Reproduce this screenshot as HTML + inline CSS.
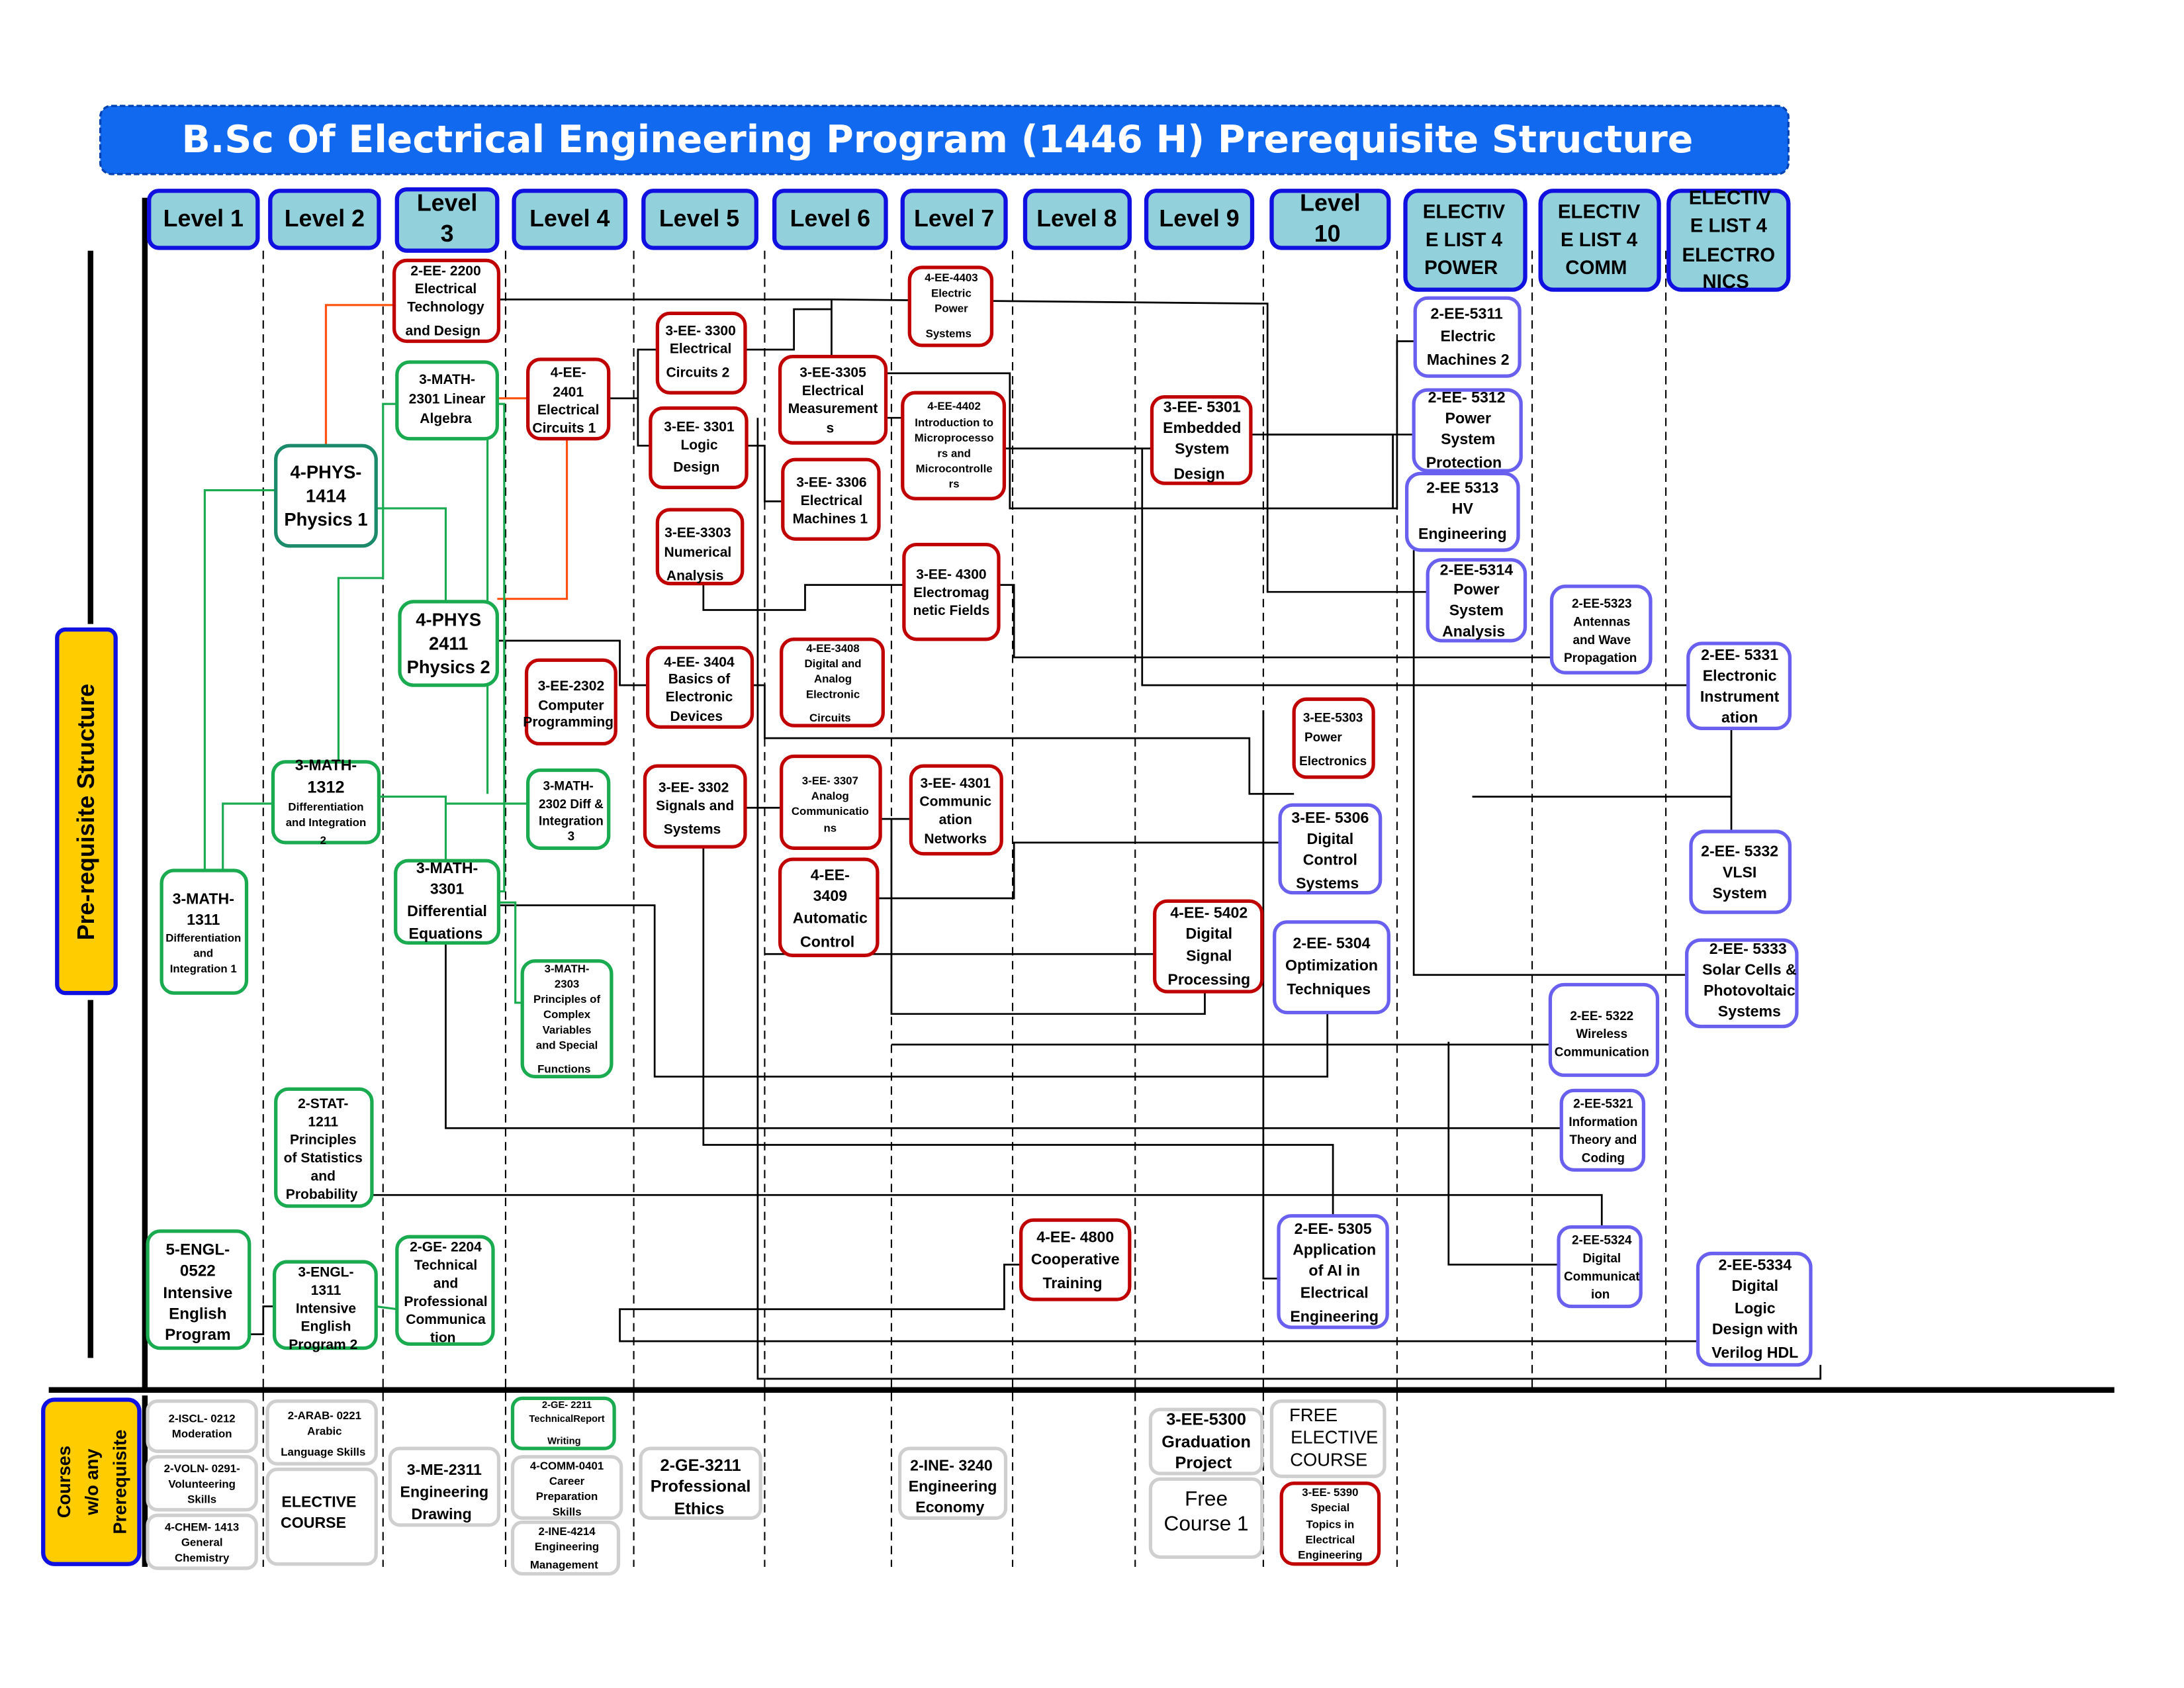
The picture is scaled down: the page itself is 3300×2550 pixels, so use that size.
<!DOCTYPE html>
<html><head><meta charset="utf-8"><style>
html,body{margin:0;padding:0;background:#fff;}
svg{display:block;}
text{font-family:"Liberation Sans Narrow","Liberation Sans",sans-serif;font-weight:bold;fill:#000;text-anchor:middle;dominant-baseline:middle;}
.r{fill:#fff;stroke:#c00000;stroke-width:2.5;}
.g{fill:#fff;stroke:#1aaa50;stroke-width:2.5;}
.b{fill:#fff;stroke:#6a60f0;stroke-width:2.5;}
.y{fill:#fff;stroke:#cfcfcf;stroke-width:2.5;}
.h{fill:#92d0dc;stroke:#1010e0;stroke-width:3;}
.k{fill:none;stroke:#000;stroke-width:1.3;}
.o{fill:none;stroke:#ff5010;stroke-width:1.5;}
.gl{fill:none;stroke:#1aaa50;stroke-width:1.5;}
.d{stroke:#000;stroke-width:1;stroke-dasharray:6,4;}
</style></head><body>
<svg width="3300" height="2550" viewBox="0 0 1568 1212" preserveAspectRatio="none" xmlns="http://www.w3.org/2000/svg">
<rect x="0" y="0" width="1568" height="1212" fill="#fff"/>
<!-- title -->
<rect x="72" y="76" width="1212" height="49" rx="8" fill="#1169f0" stroke="#0040b0" stroke-width="1.5" stroke-dasharray="4,2"/>
<text x="673" y="102" style="font-family:'DejaVu Sans',sans-serif;font-size:27px;fill:#fff">B.Sc Of Electrical Engineering Program (1446 H) Prerequisite Structure</text>
<!-- dashed column lines -->
<g class="d">
<line x1="189" y1="180" x2="189" y2="1125"/><line x1="275" y1="180" x2="275" y2="1125"/><line x1="363" y1="180" x2="363" y2="1125"/><line x1="455" y1="180" x2="455" y2="1125"/><line x1="549" y1="180" x2="549" y2="1125"/><line x1="640" y1="180" x2="640" y2="1125"/><line x1="727" y1="180" x2="727" y2="1125"/><line x1="815" y1="180" x2="815" y2="1125"/><line x1="907" y1="180" x2="907" y2="1125"/><line x1="1003" y1="180" x2="1003" y2="1125"/><line x1="1100" y1="180" x2="1100" y2="1000"/><line x1="1196" y1="180" x2="1196" y2="1000"/>
</g>
<!-- structure lines -->
<line x1="104" y1="142" x2="104" y2="997" stroke="#000" stroke-width="4"/>
<line x1="104" y1="1002" x2="104" y2="1125" stroke="#000" stroke-width="4"/>
<line x1="65" y1="180" x2="65" y2="448" stroke="#000" stroke-width="4"/>
<line x1="65" y1="718" x2="65" y2="975" stroke="#000" stroke-width="4"/>
<line x1="35" y1="998" x2="1518" y2="998" stroke="#000" stroke-width="4"/>
<rect x="41" y="452" width="42" height="261" rx="6" fill="#ffcc00" stroke="#1010e0" stroke-width="3"/>
<text transform="translate(63,583) rotate(-90)" style="font-size:17px;font-family:'Liberation Sans',sans-serif">Pre-requisite Structure</text>
<rect x="31" y="1005" width="69" height="118" rx="8" fill="#ffcc00" stroke="#1010e0" stroke-width="3"/>
<text transform="translate(47,1064) rotate(-90)" style="font-size:13px;font-family:'Liberation Sans',sans-serif">Courses</text>
<text transform="translate(67,1064) rotate(-90)" style="font-size:13px;font-family:'Liberation Sans',sans-serif">w/o any</text>
<text transform="translate(87,1064) rotate(-90)" style="font-size:13px;font-family:'Liberation Sans',sans-serif">Prerequisite</text>
<!-- headers -->
<g style="font-size:17px">
<rect class="h" x="107" y="137" width="78" height="41" rx="7"/><text x="146" y="158" style="font-size:17px;font-family:'Liberation Sans',sans-serif">Level 1</text>
<rect class="h" x="194" y="137" width="78" height="41" rx="7"/><text x="233" y="158" style="font-size:17px;font-family:'Liberation Sans',sans-serif">Level 2</text>
<rect class="h" x="285" y="136" width="72" height="44" rx="7"/><text x="321" y="147" style="font-size:17px;font-family:'Liberation Sans',sans-serif">Level</text><text x="321" y="169" style="font-size:17px;font-family:'Liberation Sans',sans-serif">3</text>
<rect class="h" x="369" y="137" width="80" height="41" rx="7"/><text x="409" y="158" style="font-size:17px;font-family:'Liberation Sans',sans-serif">Level 4</text>
<rect class="h" x="462" y="137" width="81" height="41" rx="7"/><text x="502" y="158" style="font-size:17px;font-family:'Liberation Sans',sans-serif">Level 5</text>
<rect class="h" x="556" y="137" width="80" height="41" rx="7"/><text x="596" y="158" style="font-size:17px;font-family:'Liberation Sans',sans-serif">Level 6</text>
<rect class="h" x="648" y="137" width="74" height="41" rx="7"/><text x="685" y="158" style="font-size:17px;font-family:'Liberation Sans',sans-serif">Level 7</text>
<rect class="h" x="736" y="137" width="75" height="41" rx="7"/><text x="773" y="158" style="font-size:17px;font-family:'Liberation Sans',sans-serif">Level 8</text>
<rect class="h" x="823" y="137" width="76" height="41" rx="7"/><text x="861" y="158" style="font-size:17px;font-family:'Liberation Sans',sans-serif">Level 9</text>
<rect class="h" x="913" y="137" width="84" height="41" rx="7"/><text x="955" y="147" style="font-size:17px;font-family:'Liberation Sans',sans-serif">Level</text><text x="953" y="169" style="font-size:17px;font-family:'Liberation Sans',sans-serif">10</text>
<rect class="h" x="1009" y="137" width="86" height="71" rx="9"/><text x="1051" y="153" style="font-size:14px;font-family:'Liberation Sans',sans-serif">ELECTIV</text><text x="1051" y="173" style="font-size:14px;font-family:'Liberation Sans',sans-serif">E LIST 4</text><text x="1049" y="193" style="font-size:14px;font-family:'Liberation Sans',sans-serif">POWER</text>
<rect class="h" x="1106" y="137" width="85" height="71" rx="9"/><text x="1148" y="153" style="font-size:14px;font-family:'Liberation Sans',sans-serif">ELECTIV</text><text x="1148" y="173" style="font-size:14px;font-family:'Liberation Sans',sans-serif">E LIST 4</text><text x="1146" y="193" style="font-size:14px;font-family:'Liberation Sans',sans-serif">COMM</text>
<rect class="h" x="1198" y="137" width="86" height="71" rx="9"/><text x="1242" y="143" style="font-size:14px;font-family:'Liberation Sans',sans-serif">ELECTIV</text><text x="1241" y="163" style="font-size:14px;font-family:'Liberation Sans',sans-serif">E LIST 4</text><text x="1241" y="184" style="font-size:14px;font-family:'Liberation Sans',sans-serif">ELECTRO</text><text x="1239" y="203" style="font-size:14px;font-family:'Liberation Sans',sans-serif">NICS</text>
</g>
<!-- connectors black -->
<g class="k">
<polyline points="358,215 597,215 597,256"/>
<polyline points="597,215 910,218 910,425 1025,425"/>
<polyline points="910,312 1015,312"/>
<polyline points="437,286 458,286"/>
<polyline points="472,251 458,251 458,320 467,320"/>
<polyline points="535,251 570,251 570,222 597,222"/>
<polyline points="536,320 549,320 549,360 562,360"/>
<polyline points="636,268 725,268 725,365 1003,365 1003,245 1016,245"/>
<polyline points="636,300 648,300"/>
<polyline points="721,322 827,322"/>
<polyline points="898,312 1000,312 1000,365"/>
<polyline points="505,419 505,438 578,438 578,420 649,420"/>
<polyline points="717,420 728,420 728,472 1114,472"/>
<polyline points="540,492 549,492 549,530 897,530 897,570 929,570"/>
<polyline points="357,460 445,460 445,492 465,492"/>
<polyline points="535,580 561,580"/>
<polyline points="632,588 654,588"/>
<polyline points="630,645 728,645 728,605 919,605"/>
<polyline points="505,608 505,822 957,822 957,873"/>
<polyline points="320,677 320,810 1150,810 1150,840"/>
<polyline points="267,858 1150,858 1150,881"/>
<polyline points="358,650 470,650 470,773 953,773 953,727"/>
<polyline points="865,712 865,728 640,728 640,588"/>
<polyline points="640,750 1113,750"/>
<polyline points="733,908 721,908 721,940 445,940 445,963 1219,963"/>
<polyline points="544,300 544,990 1307,990 1307,980"/>
<polyline points="1040,748 1040,908 1119,908"/>
<polyline points="1015,395 1015,700 1211,700"/>
<polyline points="1243,523 1243,597"/>
<polyline points="1057,572 1243,572"/>
<polyline points="820,322 820,492 1212,492"/>
<polyline points="549,685 829,685"/>
<polyline points="907,510 907,918 918,918"/>
<polyline points="179,958 189,958 189,938 197,938"/>
</g>
<!-- orange -->
<g class="o">
<polyline points="283,219 234,219 234,320"/>
<polyline points="357,286 379,286"/>
<polyline points="407,315 407,430 357,430"/>
</g>
<!-- green -->
<g class="gl">
<polyline points="147,625 147,352 198,352"/>
<polyline points="160,625 160,577 196,577"/>
<polyline points="270,365 320,365 320,432"/>
<polyline points="243,547 243,415 275,415 275,290 285,290"/>
<polyline points="272,572 320,572 320,618"/>
<polyline points="320,577 379,577"/>
<polyline points="357,290 362,290 362,640 358,640"/>
<polyline points="350,300 350,570"/>
<polyline points="358,648 370,648 370,720 375,720"/>
<polyline points="270,938 285,940"/>
</g>
<!-- nodes -->
<g style="font-size:10px">
<rect class="r" x="283" y="187" width="75" height="58" rx="9"/><text x="320" y="195">2-EE- 2200</text><text x="320" y="208">Electrical</text><text x="320" y="221">Technology</text><text x="318" y="238">and Design</text>
<rect class="g" x="285" y="260" width="72" height="55" rx="9"/><text x="321" y="273">3-MATH-</text><text x="321" y="287">2301 Linear</text><text x="320" y="301">Algebra</text>
<rect class="g" x="198" y="320" width="72" height="72" rx="10" style="stroke:#1a8a6a"/><text x="234" y="340" style="font-size:13px">4-PHYS-</text><text x="234" y="357" style="font-size:13px">1414</text><text x="234" y="374" style="font-size:13px">Physics 1</text>
<rect class="g" x="287" y="432" width="70" height="60" rx="10"/><text x="322" y="446" style="font-size:13px">4-PHYS</text><text x="322" y="463" style="font-size:13px">2411</text><text x="322" y="480" style="font-size:13px">Physics 2</text>
<rect class="g" x="196" y="547" width="76" height="58" rx="9"/><text x="234" y="550" style="font-size:11px">3-MATH-</text><text x="234" y="566" style="font-size:12px">1312</text><text x="234" y="580" style="font-size:8px">Differentiation</text><text x="234" y="591" style="font-size:8px">and Integration</text><text x="232" y="604" style="font-size:8px">2</text>
<rect class="g" x="116" y="625" width="61" height="88" rx="9"/><text x="146" y="646" style="font-size:11px">3-MATH-</text><text x="146" y="661" style="font-size:11px">1311</text><text x="146" y="674" style="font-size:8px">Differentiation</text><text x="146" y="685" style="font-size:8px">and</text><text x="146" y="696" style="font-size:8px">Integration 1</text>
<rect class="g" x="284" y="618" width="74" height="59" rx="9"/><text x="321" y="624" style="font-size:11px">3-MATH-</text><text x="321" y="639" style="font-size:11px">3301</text><text x="321" y="655" style="font-size:11px">Differential</text><text x="320" y="671" style="font-size:11px">Equations</text>
<rect class="g" x="198" y="782" width="69" height="84" rx="9"/><text x="232" y="793">2-STAT-</text><text x="232" y="806">1211</text><text x="232" y="819">Principles</text><text x="232" y="832">of Statistics</text><text x="232" y="845">and</text><text x="231" y="858">Probability</text>
<rect class="g" x="106" y="884" width="73" height="84" rx="9"/><text x="142" y="898" style="font-size:11.5px">5-ENGL-</text><text x="142" y="913" style="font-size:11.5px">0522</text><text x="142" y="929" style="font-size:11.5px">Intensive</text><text x="142" y="944" style="font-size:11.5px">English</text><text x="142" y="959" style="font-size:11.5px">Program</text>
<rect class="g" x="197" y="906" width="73" height="62" rx="9"/><text x="234" y="914">3-ENGL-</text><text x="234" y="927">1311</text><text x="234" y="940">Intensive</text><text x="234" y="953">English</text><text x="232" y="966">Program 2</text>
<rect class="g" x="285" y="888" width="69" height="77" rx="9"/><text x="320" y="896">2-GE- 2204</text><text x="320" y="909">Technical</text><text x="320" y="922">and</text><text x="320" y="935">Professional</text><text x="320" y="948">Communica</text><text x="318" y="961">tion</text>
<rect class="r" x="379" y="258" width="58" height="57" rx="9"/><text x="408" y="268">4-EE-</text><text x="408" y="282">2401</text><text x="408" y="295">Electrical</text><text x="405" y="308">Circuits 1</text>
<rect class="r" x="378" y="474" width="64" height="60" rx="9"/><text x="410" y="493">3-EE-2302</text><text x="410" y="507">Computer</text><text x="408" y="519">Programming</text>
<rect class="g" x="379" y="553" width="58" height="56" rx="9"/><text x="408" y="565" style="font-size:9px">3-MATH-</text><text x="410" y="578" style="font-size:9px">2302 Diff &amp;</text><text x="410" y="590" style="font-size:9px">Integration</text><text x="410" y="601" style="font-size:9px">3</text>
<rect class="g" x="375" y="690" width="64" height="83" rx="9"/><text x="407" y="696" style="font-size:8px">3-MATH-</text><text x="407" y="707" style="font-size:8px">2303</text><text x="407" y="718" style="font-size:8px">Principles of</text><text x="407" y="729" style="font-size:8px">Complex</text><text x="407" y="740" style="font-size:8px">Variables</text><text x="407" y="751" style="font-size:8px">and Special</text><text x="405" y="768" style="font-size:8px">Functions</text>
<rect class="r" x="472" y="225" width="63" height="57" rx="9"/><text x="503" y="238">3-EE- 3300</text><text x="503" y="251">Electrical</text><text x="501" y="268">Circuits 2</text>
<rect class="r" x="467" y="293" width="69" height="57" rx="9"/><text x="502" y="307">3-EE- 3301</text><text x="502" y="320">Logic</text><text x="500" y="336">Design</text>
<rect class="r" x="472" y="366" width="61" height="53" rx="9"/><text x="501" y="383">3-EE-3303</text><text x="501" y="397">Numerical</text><text x="499" y="414">Analysis</text>
<rect class="r" x="465" y="465" width="75" height="57" rx="9"/><text x="502" y="476">4-EE- 3404</text><text x="502" y="488">Basics of</text><text x="502" y="501">Electronic</text><text x="500" y="515">Devices</text>
<rect class="r" x="463" y="550" width="72" height="58" rx="9"/><text x="498" y="566">3-EE- 3302</text><text x="499" y="579">Signals and</text><text x="497" y="596">Systems</text>
<rect class="r" x="560" y="256" width="76" height="62" rx="9"/><text x="598" y="268">3-EE-3305</text><text x="598" y="281">Electrical</text><text x="598" y="294">Measurement</text><text x="596" y="308">s</text>
<rect class="r" x="562" y="330" width="69" height="57" rx="9"/><text x="597" y="347">3-EE- 3306</text><text x="597" y="360">Electrical</text><text x="596" y="373">Machines 1</text>
<rect class="r" x="561" y="459" width="73" height="62" rx="9"/><text x="598" y="466" style="font-size:8px">4-EE-3408</text><text x="598" y="477" style="font-size:8px">Digital and</text><text x="598" y="488" style="font-size:8px">Analog</text><text x="598" y="499" style="font-size:8px">Electronic</text><text x="596" y="516" style="font-size:8px">Circuits</text>
<rect class="r" x="561" y="543" width="71" height="66" rx="9"/><text x="596" y="561" style="font-size:8px">3-EE- 3307</text><text x="596" y="572" style="font-size:8px">Analog</text><text x="596" y="583" style="font-size:8px">Communicatio</text><text x="596" y="595" style="font-size:8px">ns</text>
<rect class="r" x="560" y="617" width="70" height="69" rx="9"/><text x="596" y="629" style="font-size:11px">4-EE-</text><text x="596" y="644" style="font-size:11px">3409</text><text x="596" y="660" style="font-size:11px">Automatic</text><text x="594" y="677" style="font-size:11px">Control</text>
<rect class="r" x="653" y="192" width="59" height="56" rx="9"/><text x="683" y="200" style="font-size:8px">4-EE-4403</text><text x="683" y="211" style="font-size:8px">Electric</text><text x="683" y="222" style="font-size:8px">Power</text><text x="681" y="240" style="font-size:8px">Systems</text>
<rect class="r" x="648" y="282" width="73" height="76" rx="9"/><text x="685" y="292" style="font-size:8px">4-EE-4402</text><text x="685" y="304" style="font-size:8px">Introduction to</text><text x="685" y="315" style="font-size:8px">Microprocesso</text><text x="685" y="326" style="font-size:8px">rs and</text><text x="685" y="337" style="font-size:8px">Microcontrolle</text><text x="685" y="348" style="font-size:8px">rs</text>
<rect class="r" x="649" y="391" width="68" height="68" rx="9"/><text x="683" y="413">3-EE- 4300</text><text x="683" y="426">Electromag</text><text x="683" y="439">netic Fields</text>
<rect class="r" x="654" y="550" width="65" height="63" rx="9"/><text x="686" y="563">3-EE- 4301</text><text x="686" y="576">Communic</text><text x="686" y="589">ation</text><text x="686" y="603">Networks</text>
<rect class="r" x="733" y="876" width="78" height="57" rx="9"/><text x="772" y="889" style="font-size:11px">4-EE- 4800</text><text x="772" y="905" style="font-size:11px">Cooperative</text><text x="770" y="922" style="font-size:11px">Training</text>
<rect class="r" x="827" y="285" width="71" height="62" rx="9"/><text x="863" y="293" style="font-size:11px">3-EE- 5301</text><text x="863" y="308" style="font-size:11px">Embedded</text><text x="863" y="323" style="font-size:11px">System</text><text x="861" y="341" style="font-size:11px">Design</text>
<rect class="r" x="829" y="647" width="77" height="65" rx="9"/><text x="868" y="656" style="font-size:11px">4-EE- 5402</text><text x="868" y="671" style="font-size:11px">Digital</text><text x="868" y="687" style="font-size:11px">Signal</text><text x="868" y="704" style="font-size:11px">Processing</text>
<rect class="r" x="929" y="502" width="57" height="56" rx="9"/><text x="957" y="516" style="font-size:9px">3-EE-5303</text><text x="950" y="530" style="font-size:9px">Power</text><text x="957" y="547" style="font-size:9px">Electronics</text>
<rect class="b" x="919" y="578" width="72" height="63" rx="9"/><text x="955" y="588" style="font-size:11px">3-EE- 5306</text><text x="955" y="603" style="font-size:11px">Digital</text><text x="955" y="618" style="font-size:11px">Control</text><text x="953" y="635" style="font-size:11px">Systems</text>
<rect class="b" x="915" y="662" width="82" height="65" rx="9"/><text x="956" y="678" style="font-size:11px">2-EE- 5304</text><text x="956" y="694" style="font-size:11px">Optimization</text><text x="954" y="711" style="font-size:11px">Techniques</text>
<rect class="b" x="918" y="873" width="78" height="80" rx="9"/><text x="957" y="883" style="font-size:11px">2-EE- 5305</text><text x="958" y="898" style="font-size:11px">Application</text><text x="958" y="913" style="font-size:11px">of AI in</text><text x="958" y="929" style="font-size:11px">Electrical</text><text x="958" y="946" style="font-size:11px">Engineering</text>
<rect class="b" x="1016" y="214" width="75" height="56" rx="9"/><text x="1053" y="226" style="font-size:11px">2-EE-5311</text><text x="1054" y="242" style="font-size:11px">Electric</text><text x="1054" y="259" style="font-size:11px">Machines 2</text>
<rect class="b" x="1015" y="280" width="77" height="58" rx="10"/><text x="1053" y="286" style="font-size:11px">2-EE- 5312</text><text x="1054" y="301" style="font-size:11px">Power</text><text x="1054" y="316" style="font-size:11px">System</text><text x="1051" y="333" style="font-size:11px">Protection</text>
<rect class="b" x="1010" y="340" width="80" height="55" rx="10"/><text x="1050" y="351" style="font-size:11px">2-EE 5313</text><text x="1050" y="366" style="font-size:11px">HV</text><text x="1050" y="384" style="font-size:11px">Engineering</text>
<rect class="b" x="1025" y="402" width="70" height="58" rx="10"/><text x="1060" y="410" style="font-size:11px">2-EE-5314</text><text x="1060" y="424" style="font-size:11px">Power</text><text x="1060" y="439" style="font-size:11px">System</text><text x="1058" y="454" style="font-size:11px">Analysis</text>
<rect class="b" x="1114" y="421" width="71" height="62" rx="10"/><text x="1150" y="434" style="font-size:9px">2-EE-5323</text><text x="1150" y="447" style="font-size:9px">Antennas</text><text x="1150" y="460" style="font-size:9px">and Wave</text><text x="1149" y="473" style="font-size:9px">Propagation</text>
<rect class="b" x="1113" y="707" width="77" height="65" rx="10"/><text x="1150" y="730" style="font-size:9px">2-EE- 5322</text><text x="1150" y="743" style="font-size:9px">Wireless</text><text x="1150" y="756" style="font-size:9px">Communication</text>
<rect class="b" x="1121" y="783" width="59" height="57" rx="9"/><text x="1151" y="793" style="font-size:9px">2-EE-5321</text><text x="1151" y="806" style="font-size:9px">Information</text><text x="1151" y="819" style="font-size:9px">Theory and</text><text x="1151" y="832" style="font-size:9px">Coding</text>
<rect class="b" x="1119" y="881" width="59" height="57" rx="9"/><text x="1150" y="891" style="font-size:9px">2-EE-5324</text><text x="1150" y="904" style="font-size:9px">Digital</text><text x="1150" y="917" style="font-size:9px">Communicat</text><text x="1149" y="930" style="font-size:9px">ion</text>
<rect class="b" x="1212" y="462" width="73" height="61" rx="10"/><text x="1249" y="471" style="font-size:11px">2-EE- 5331</text><text x="1249" y="486" style="font-size:11px">Electronic</text><text x="1249" y="501" style="font-size:11px">Instrument</text><text x="1249" y="516" style="font-size:11px">ation</text>
<rect class="b" x="1214" y="597" width="71" height="58" rx="10"/><text x="1249" y="612" style="font-size:11px">2-EE- 5332</text><text x="1249" y="627" style="font-size:11px">VLSI</text><text x="1249" y="642" style="font-size:11px">System</text>
<rect class="b" x="1211" y="675" width="79" height="62" rx="10"/><text x="1255" y="682" style="font-size:11px">2-EE- 5333</text><text x="1256" y="697" style="font-size:11px">Solar Cells &amp;</text><text x="1256" y="712" style="font-size:11px">Photovoltaic</text><text x="1256" y="727" style="font-size:11px">Systems</text>
<rect class="b" x="1219" y="900" width="81" height="80" rx="10"/><text x="1260" y="909" style="font-size:11px">2-EE-5334</text><text x="1260" y="924" style="font-size:11px">Digital</text><text x="1260" y="940" style="font-size:11px">Logic</text><text x="1260" y="955" style="font-size:11px">Design with</text><text x="1260" y="972" style="font-size:11px">Verilog HDL</text>
</g>
<!-- bottom courses -->
<g style="font-size:8px">
<rect class="y" x="106" y="1006" width="78" height="36" rx="7"/><text x="145" y="1019">2-ISCL- 0212</text><text x="145" y="1030">Moderation</text>
<rect class="y" x="106" y="1046" width="78" height="38" rx="7"/><text x="145" y="1055">2-VOLN- 0291-</text><text x="145" y="1066">Volunteering</text><text x="145" y="1077">Skills</text>
<rect class="y" x="106" y="1088" width="78" height="38" rx="7"/><text x="145" y="1097">4-CHEM- 1413</text><text x="145" y="1108">General</text><text x="145" y="1119">Chemistry</text>
<rect class="y" x="192" y="1006" width="78" height="45" rx="7"/><text x="233" y="1017">2-ARAB- 0221</text><text x="233" y="1028">Arabic</text><text x="232" y="1043">Language Skills</text>
<rect class="y" x="192" y="1055" width="78" height="68" rx="7"/><text x="229" y="1079" style="font-size:11px">ELECTIVE</text><text x="225" y="1094" style="font-size:11px">COURSE</text>
<rect class="y" x="280" y="1040" width="78" height="55" rx="7"/><text x="319" y="1056" style="font-size:11px">3-ME-2311</text><text x="319" y="1072" style="font-size:11px">Engineering</text><text x="317" y="1088" style="font-size:11px">Drawing</text>
<rect class="g" x="368" y="1004" width="73" height="36" rx="7"/><text x="407" y="1009" style="font-size:7px">2-GE- 2211</text><text x="407" y="1019" style="font-size:7px">TechnicalReport</text><text x="405" y="1035" style="font-size:7px">Writing</text>
<rect class="y" x="368" y="1046" width="78" height="44" rx="7"/><text x="407" y="1053">4-COMM-0401</text><text x="407" y="1064">Career</text><text x="407" y="1075">Preparation</text><text x="407" y="1086">Skills</text>
<rect class="y" x="368" y="1093" width="76" height="37" rx="7"/><text x="407" y="1100">2-INE-4214</text><text x="407" y="1111">Engineering</text><text x="405" y="1124">Management</text>
<rect class="y" x="460" y="1040" width="86" height="50" rx="7"/><text x="503" y="1053" style="font-size:12px">2-GE-3211</text><text x="503" y="1068" style="font-size:12px">Professional</text><text x="502" y="1084" style="font-size:12px">Ethics</text>
<rect class="y" x="646" y="1040" width="76" height="50" rx="7"/><text x="683" y="1053" style="font-size:11px">2-INE- 3240</text><text x="684" y="1068" style="font-size:11px">Engineering</text><text x="682" y="1083" style="font-size:11px">Economy</text>
<rect class="y" x="826" y="1012" width="80" height="46" rx="7"/><text x="866" y="1020" style="font-size:12px">3-EE-5300</text><text x="866" y="1036" style="font-size:12px">Graduation</text><text x="864" y="1051" style="font-size:12px">Project</text>
<rect class="y" x="826" y="1062" width="80" height="56" rx="7"/><text x="866" y="1077" style="font-size:15px;font-weight:normal;font-family:'Liberation Sans',sans-serif">Free</text><text x="866" y="1095" style="font-size:15px;font-weight:normal;font-family:'Liberation Sans',sans-serif">Course 1</text>
<rect class="y" x="913" y="1006" width="81" height="54" rx="7"/><text x="943" y="1017" style="font-size:13px;font-weight:normal;font-family:'Liberation Sans',sans-serif">FREE</text><text x="958" y="1033" style="font-size:13px;font-weight:normal;font-family:'Liberation Sans',sans-serif">ELECTIVE</text><text x="954" y="1049" style="font-size:13px;font-weight:normal;font-family:'Liberation Sans',sans-serif">COURSE</text>
<rect class="r" x="920" y="1065" width="70" height="58" rx="9"/><text x="955" y="1072">3-EE- 5390</text><text x="955" y="1083">Special</text><text x="955" y="1095">Topics in</text><text x="955" y="1106">Electrical</text><text x="955" y="1117">Engineering</text>
</g>
</svg>
</body></html>
